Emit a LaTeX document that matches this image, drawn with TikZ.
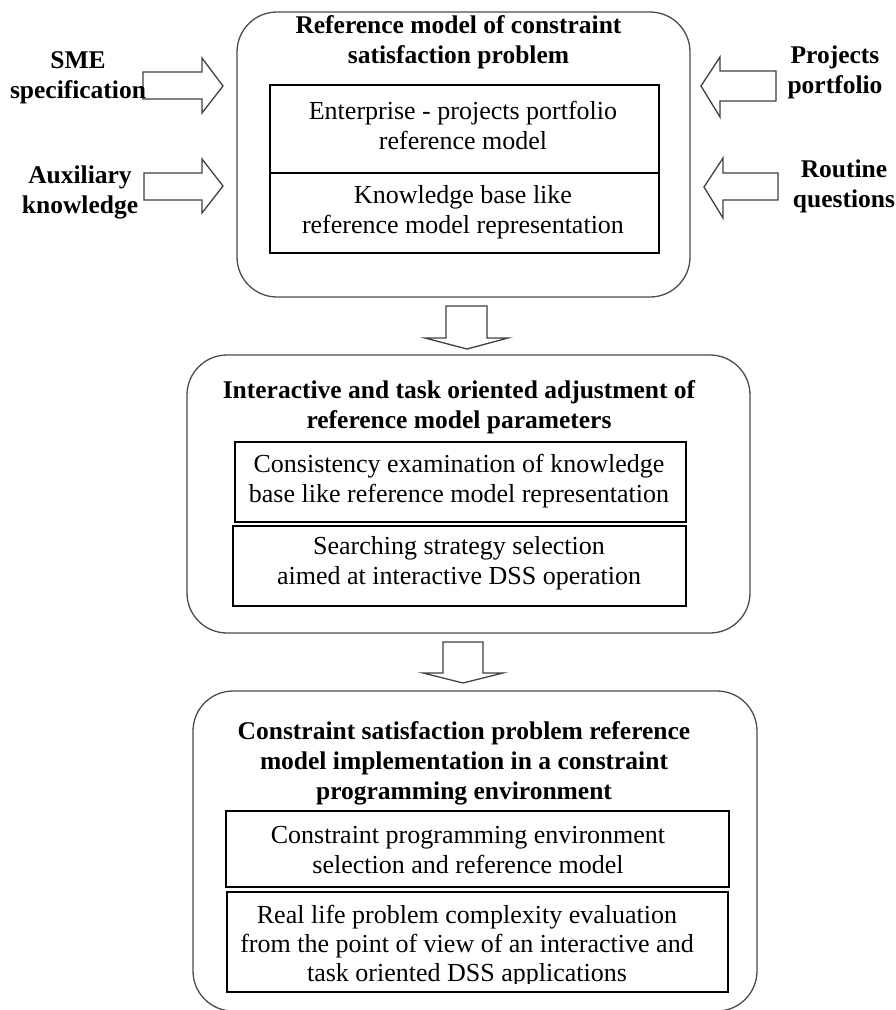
\documentclass[tikz,border=0pt]{standalone}
\usepackage{fontspec}
\setmainfont{Liberation Serif}
\begin{document}
\begin{tikzpicture}[x=1pt,y=-1pt,
  txt/.style={font=\fontsize{26}{30}\selectfont, align=center, inner sep=0pt, text=black},
  ttl/.style={txt, font=\fontsize{25.5}{30}\selectfont\bfseries},
  stagebox/.style={draw=black!70, line width=1.3pt, rounded corners=40pt, inner sep=0pt},
  partbox/.style={draw=black, line width=1.2pt, inner sep=0pt},
  blockarrow/.style={draw=black!75, line width=1.3pt, fill=white, line join=miter}]
\useasboundingbox (0,0) rectangle (896,1010);

% ---- stage outlines ----
\node[stagebox, minimum width=453pt, minimum height=285pt] (stageA) at (463.5,154.5) {};
\node[stagebox, minimum width=563pt, minimum height=278pt] (stageB) at (468.5,494) {};
\node[stagebox, minimum width=564pt, minimum height=320pt] (stageC) at (475,851) {};

% ---- stage 1 ----
\node[ttl] (titleA) at (458.5,42) {Reference model of constraint\\satisfaction problem};
\node[partbox, minimum width=389pt, minimum height=88pt] (partA1) at (464.5,129) {};
\node[partbox, minimum width=389pt, minimum height=80pt] (partA2) at (464.5,213) {};
\node[txt] (textA1) at (463,125) {Enterprise - projects portfolio\\reference model};
\node[txt] (textA2) at (463,212) {Knowledge base like\\reference model representation};

% ---- stage 2 ----
\node[ttl] (titleB) at (459,407) {Interactive and task oriented adjustment of\\reference model parameters};
\node[partbox, minimum width=451pt, minimum height=80pt] (partB1) at (460.5,482) {};
\node[partbox, minimum width=453pt, minimum height=80pt] (partB2) at (459.5,566) {};
\node[txt] (textB1) at (459,481) {Consistency examination of knowledge\\base like reference model representation};
\node[txt] (textB2) at (459,563) {Searching strategy selection\\aimed at interactive DSS operation};

% ---- stage 3 ----
\node[ttl] (titleC) at (464,763) {Constraint satisfaction problem reference\\model implementation in a constraint\\programming environment};
\node[partbox, minimum width=503pt, minimum height=76pt] (partC1) at (477.5,849) {};
\node[partbox, minimum width=501pt, minimum height=100pt] (partC2) at (477.5,942) {};
\node[txt] (textC1) at (468,850) {Constraint programming environment\\selection and reference model};
\begin{scope}
  \clip (228,893) rectangle (727,983.5);
  \node[txt, font=\fontsize{26}{29}\selectfont] (textC2) at (467,946) {Real life problem complexity evaluation\\from the point of view of an interactive and\\task oriented DSS applications};
\end{scope}

% ---- flow arrows between stages ----
\draw[blockarrow] (446,306) -- (487,306) -- (487,338) -- (508,338) -- (467,349) -- (425,338) -- (446,338) -- cycle;
\draw[blockarrow] (443,642) -- (483,642) -- (483,673) -- (503,673) -- (463,683) -- (423,673) -- (443,673) -- cycle;

% ---- input arrows ----
\draw[blockarrow] (143,72) -- (202,72) -- (202,58) -- (223,86) -- (202,113) -- (202,99) -- (143,99) -- cycle;
\draw[blockarrow] (144,173) -- (202,173) -- (202,159) -- (223,186) -- (202,213) -- (202,200) -- (144,200) -- cycle;
\draw[blockarrow] (776,71) -- (720,71) -- (720,57) -- (701,86) -- (720,117) -- (720,101) -- (776,101) -- cycle;
\draw[blockarrow] (778,173) -- (723,173) -- (723,158) -- (704,187) -- (723,218) -- (723,200) -- (778,200) -- cycle;

% ---- input labels ----
\node[ttl] (inSME) at (78,78) {SME\\specification};
\node[ttl] (inAux) at (80,192) {Auxiliary\\knowledge};
\node[ttl] (inProj) at (835,72) {Projects\\portfolio};
\node[ttl] (inRout) at (844,186) {Routine\\questions};
\end{tikzpicture}
\end{document}
